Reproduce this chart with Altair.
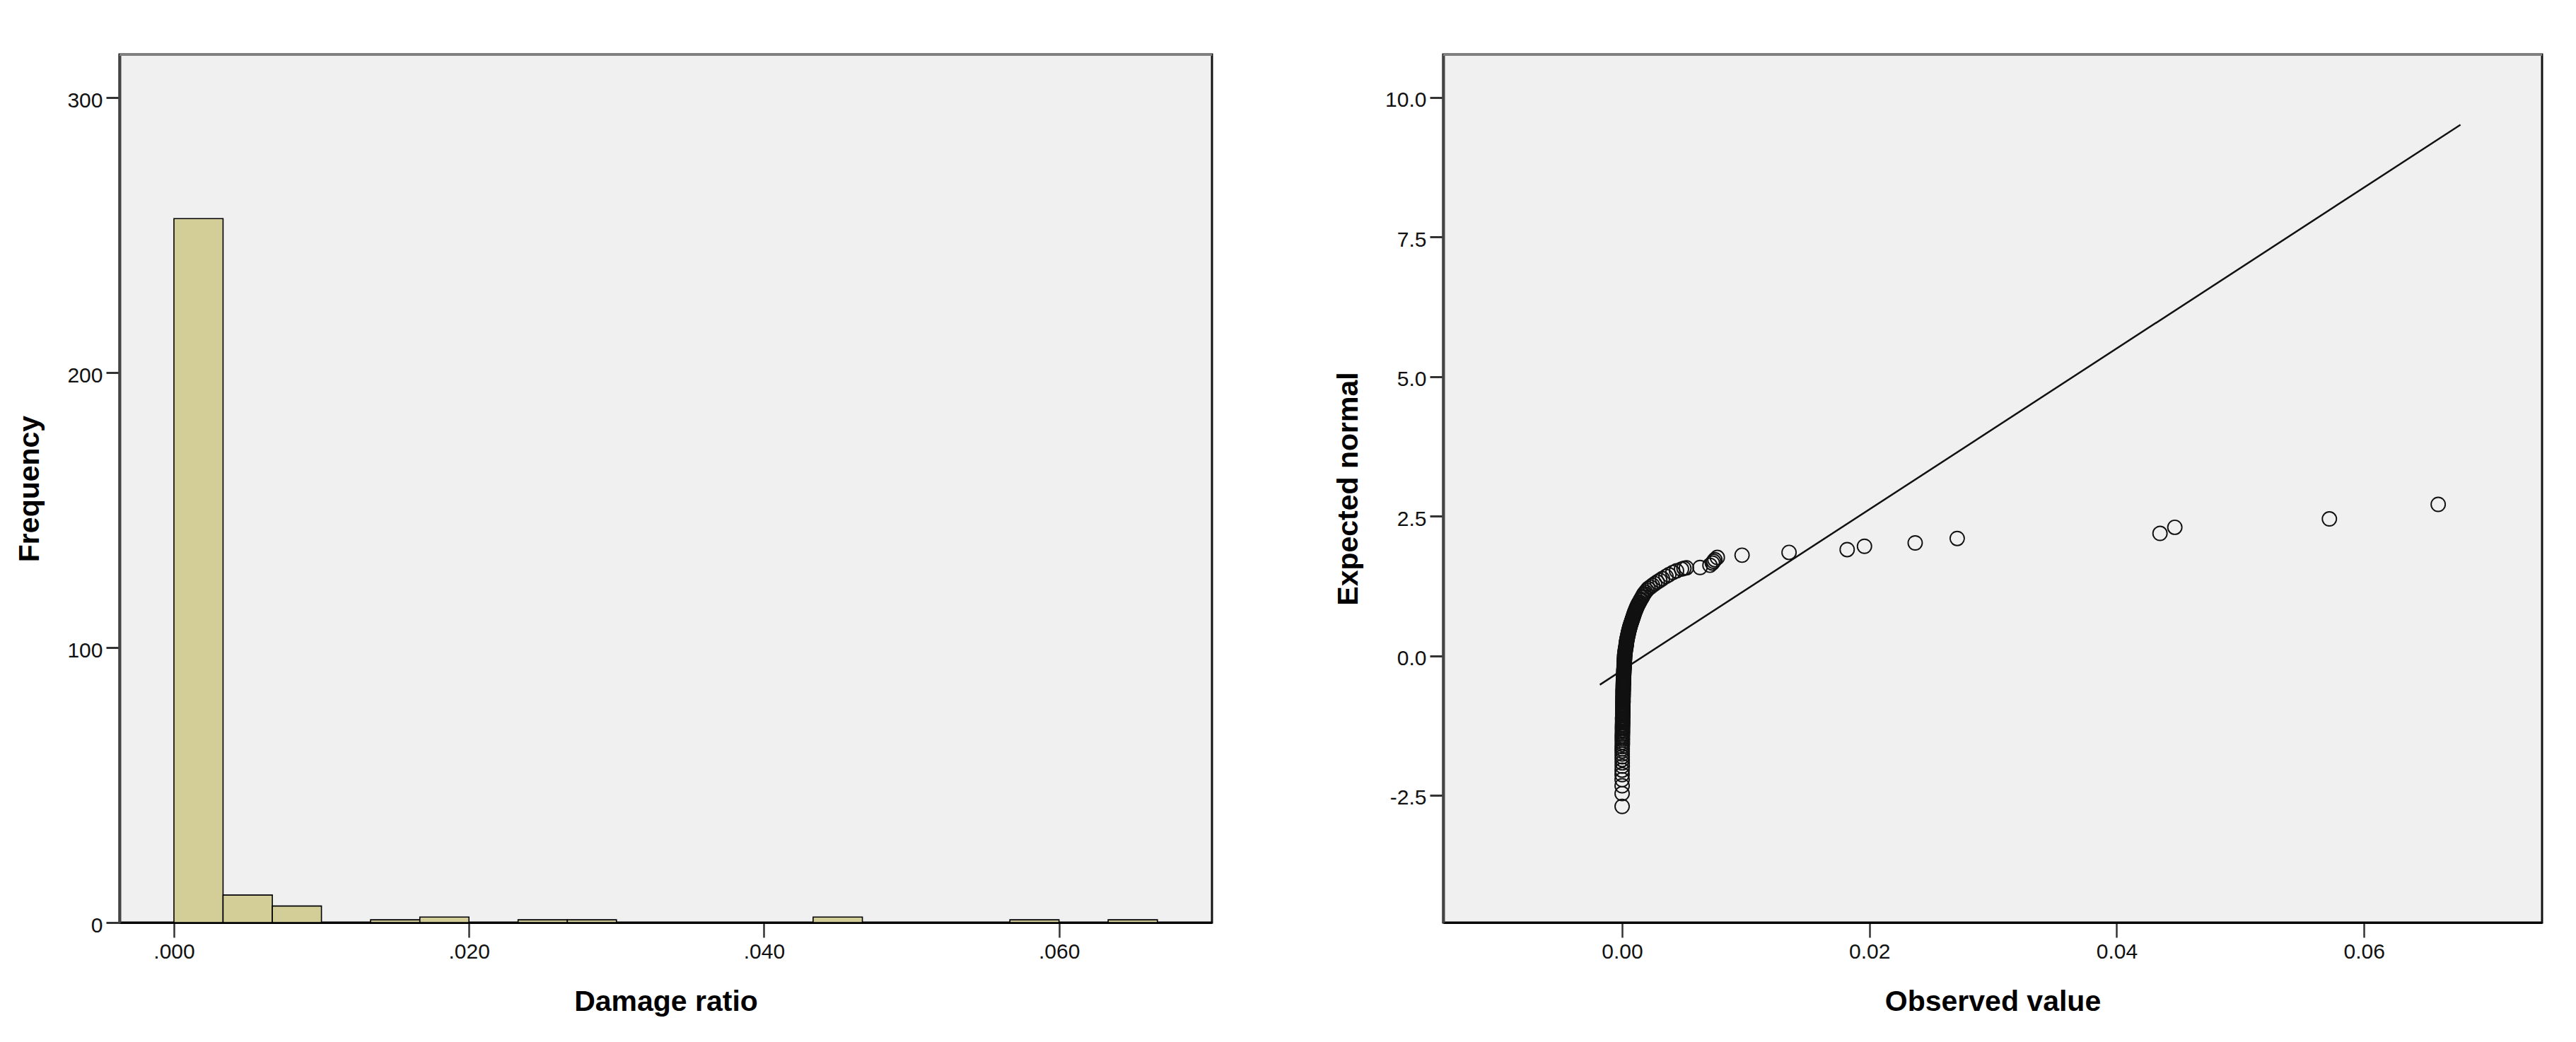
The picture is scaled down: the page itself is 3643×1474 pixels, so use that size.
import altair as alt
import pandas as pd

# ---------------- Histogram data (Damage ratio) ----------------
bin_lower = [0.00000, 0.00333, 0.00667, 0.01333, 0.01667, 0.02333, 0.02667, 0.04333, 0.05667, 0.06333]
bin_upper = [0.00333, 0.00667, 0.01000, 0.01667, 0.02000, 0.02667, 0.03000, 0.04667, 0.06000, 0.06667]
frequency = [256, 10, 6, 1, 2, 1, 1, 2, 1, 1]
hist_x_ticks = [0.0, 0.02, 0.04, 0.06]
hist_y_ticks = [0, 100, 200, 300]

# ---------------- Normal Q-Q data ----------------
# (observed value, expected normal) - dense band of points near zero
qq_band = [
    (0.00000, -2.70), (0.00000, -2.47), (0.00000, -2.33), (0.00000, -2.22), (0.00000, -2.13),
    (0.00000, -2.05), (0.00001, -1.98), (0.00001, -1.92), (0.00001, -1.86), (0.00001, -1.81),
    (0.00001, -1.76), (0.00001, -1.71), (0.00001, -1.67), (0.00001, -1.63), (0.00002, -1.59),
    (0.00002, -1.55), (0.00002, -1.51), (0.00002, -1.48), (0.00002, -1.45), (0.00002, -1.42),
    (0.00003, -1.39), (0.00003, -1.36), (0.00003, -1.33), (0.00003, -1.30), (0.00003, -1.28),
    (0.00003, -1.25), (0.00004, -1.23), (0.00004, -1.20), (0.00004, -1.18), (0.00004, -1.15),
    (0.00004, -1.13), (0.00004, -1.11), (0.00005, -1.08), (0.00005, -1.06), (0.00005, -1.04),
    (0.00005, -1.02), (0.00005, -1.00), (0.00005, -0.98), (0.00006, -0.96), (0.00006, -0.94),
    (0.00006, -0.92), (0.00006, -0.90), (0.00006, -0.88), (0.00006, -0.86), (0.00007, -0.84),
    (0.00007, -0.82), (0.00007, -0.80), (0.00007, -0.78), (0.00007, -0.76), (0.00007, -0.74),
    (0.00008, -0.72), (0.00008, -0.70), (0.00008, -0.68), (0.00008, -0.66), (0.00008, -0.64),
    (0.00008, -0.62), (0.00009, -0.61), (0.00009, -0.59), (0.00009, -0.57), (0.00009, -0.55),
    (0.00009, -0.53), (0.00010, -0.51), (0.00010, -0.50), (0.00010, -0.48), (0.00010, -0.46),
    (0.00011, -0.44), (0.00011, -0.43), (0.00011, -0.41), (0.00012, -0.39), (0.00012, -0.37),
    (0.00012, -0.36), (0.00013, -0.34), (0.00013, -0.32), (0.00013, -0.30), (0.00014, -0.29),
    (0.00014, -0.27), (0.00014, -0.25), (0.00015, -0.24), (0.00015, -0.22), (0.00016, -0.20),
    (0.00016, -0.19), (0.00016, -0.17), (0.00017, -0.15), (0.00017, -0.14), (0.00018, -0.12),
    (0.00018, -0.10), (0.00018, -0.09), (0.00019, -0.07), (0.00019, -0.05), (0.00020, -0.04),
    (0.00020, -0.02), (0.00020, 0.00), (0.00021, 0.01), (0.00022, 0.03), (0.00023, 0.05),
    (0.00024, 0.06), (0.00025, 0.08), (0.00026, 0.10), (0.00027, 0.11), (0.00028, 0.13),
    (0.00030, 0.15), (0.00031, 0.16), (0.00032, 0.18), (0.00033, 0.20), (0.00034, 0.21),
    (0.00035, 0.23), (0.00036, 0.25), (0.00037, 0.26), (0.00038, 0.28), (0.00040, 0.30),
    (0.00041, 0.31), (0.00043, 0.33), (0.00045, 0.35), (0.00047, 0.37), (0.00048, 0.38),
    (0.00050, 0.40), (0.00052, 0.42), (0.00054, 0.44), (0.00055, 0.45), (0.00057, 0.47),
    (0.00060, 0.49), (0.00062, 0.51), (0.00064, 0.52), (0.00066, 0.54), (0.00069, 0.56),
    (0.00072, 0.58), (0.00075, 0.60), (0.00078, 0.62), (0.00081, 0.64), (0.00084, 0.66),
    (0.00087, 0.68), (0.00090, 0.70), (0.00093, 0.72), (0.00096, 0.74), (0.00099, 0.76),
    (0.00102, 0.78), (0.00106, 0.80), (0.00110, 0.82), (0.00113, 0.84), (0.00117, 0.86),
    (0.00121, 0.88), (0.00125, 0.90), (0.00130, 0.92), (0.00134, 0.94), (0.00140, 0.96),
    (0.00147, 0.99), (0.00152, 1.01), (0.00160, 1.04), (0.00165, 1.06), (0.00172, 1.09),
    (0.00178, 1.11), (0.00188, 1.14), (0.00199, 1.17), (0.00210, 1.20), (0.00228, 1.23),
    (0.00246, 1.26), (0.00264, 1.29), (0.00284, 1.32), (0.00305, 1.35), (0.00326, 1.38),
    (0.00355, 1.42), (0.00378, 1.45), (0.00410, 1.49), (0.00440, 1.52), (0.00480, 1.55),
]
# upper tail points
qq_upper = [
    (0.00500, 1.565), (0.00520, 1.575), (0.00630, 1.58), (0.00710, 1.62), (0.00730, 1.66),
    (0.00740, 1.69), (0.00750, 1.72), (0.00770, 1.76), (0.00970, 1.80), (0.01350, 1.85),
    (0.01820, 1.90), (0.01960, 1.96), (0.02370, 2.02), (0.02710, 2.10), (0.04350, 2.19),
    (0.04470, 2.30), (0.05720, 2.45), (0.06600, 2.71),
]
line_x = [-0.0018, 0.0678]
line_y = [-0.52, 9.51]
qq_x_ticks = [0.0, 0.02, 0.04, 0.06]
qq_y_ticks = [-2.5, 0.0, 2.5, 5.0, 7.5, 10.0]

# ---------------- layout constants ----------------
W1, W2, H = 1545, 1554, 1228
FONT = "Liberation Sans"
BG = "#F0F0F0"

hist_df = pd.DataFrame({"lo": bin_lower, "hi": bin_upper, "n": frequency})
qq_df = pd.DataFrame(qq_band + qq_upper, columns=["obs", "exp"])
line_df = pd.DataFrame({"obs": line_x, "exp": line_y})
one = pd.DataFrame({"a": [0]})


def x_axis(values, label_expr, title):
    return alt.Axis(
        values=values, labelExpr=label_expr, title=title, grid=False,
        labelFont=FONT, labelFontSize=30, labelColor="#111", labelBaseline="alphabetic",
        labelPadding=29, labelFlush=False, labelOverlap=False,
        tickSize=21, tickWidth=2.5, tickColor="#333",
        domainColor="#000", domainWidth=3,
        titleFont=FONT, titleFontSize=41, titleFontWeight="bold", titleColor="#000",
        titleBaseline="alphabetic", titleY=124,
    )


def y_axis(values, label_expr, title, title_x):
    return alt.Axis(
        values=values, labelExpr=label_expr, title=title, grid=False,
        labelFont=FONT, labelFontSize=30, labelColor="#111", labelPadding=5,
        labelOffset=4, labelFlush=False, labelOverlap=False,
        tickSize=19, tickWidth=3, tickColor="#333",
        domainColor="#444", domainWidth=4,
        titleFont=FONT, titleFontSize=41, titleFontWeight="bold", titleColor="#000",
        titleAngle=270, titleBaseline="middle", titleAlign="center", titleX=title_x,
    )


def top_border(width):
    return alt.Chart(one).mark_rule(color="#808080", strokeWidth=4).encode(
        x=alt.value(0), x2=alt.value(width), y=alt.value(0)
    )


view_style = alt.ViewBackground(fill=BG, stroke="#111", strokeWidth=3)

bars = alt.Chart(hist_df).mark_rect(
    color="#D3CE97", stroke="#000", strokeWidth=1.6
).encode(
    x=alt.X("lo:Q", scale=alt.Scale(domain=[-0.00369, 0.07037], nice=False, zero=False),
            axis=x_axis(hist_x_ticks, "replace(format(datum.value, '.3f'), '0.', '.')", "Damage ratio")),
    x2="hi:Q",
    y=alt.Y("n:Q", scale=alt.Scale(domain=[0, 315.7], nice=False),
            axis=y_axis(hist_y_ticks, "format(datum.value, 'd')", "Frequency", -126.5)),
    y2=alt.datum(0),
)

hist = alt.layer(bars, top_border(W1)).properties(width=W1, height=H, view=view_style)

qx = alt.Scale(domain=[-0.01447, 0.0744], nice=False, zero=False)
qy = alt.Scale(domain=[-4.78, 10.77], nice=False, zero=False)

points = alt.Chart(qq_df).mark_point(
    shape="circle", filled=False, size=400, stroke="#111", strokeWidth=1.9, opacity=1
).encode(
    x=alt.X("obs:Q", scale=qx,
            axis=x_axis(qq_x_ticks, "format(datum.value, '.2f')", "Observed value")),
    y=alt.Y("exp:Q", scale=qy,
            axis=y_axis(qq_y_ticks, "replace(format(datum.value, '.1f'), '\u2212', '-')",
                        "Expected normal", -134)),
)

ref_line = alt.Chart(line_df).mark_line(color="#111", strokeWidth=2.5).encode(
    x=alt.X("obs:Q", scale=qx), y=alt.Y("exp:Q", scale=qy)
)

qq = alt.layer(points, ref_line, top_border(W2)).properties(width=W2, height=H, view=view_style)

chart = alt.hconcat(hist, qq, spacing=166).properties(
    padding={"left": 12, "top": 65, "right": 5, "bottom": 5}
).configure_view(
    fill=BG, stroke="#111", strokeWidth=3
).configure(background="white")

chart.save("out.html", embed_options={"renderer": "svg", "actions": False})
